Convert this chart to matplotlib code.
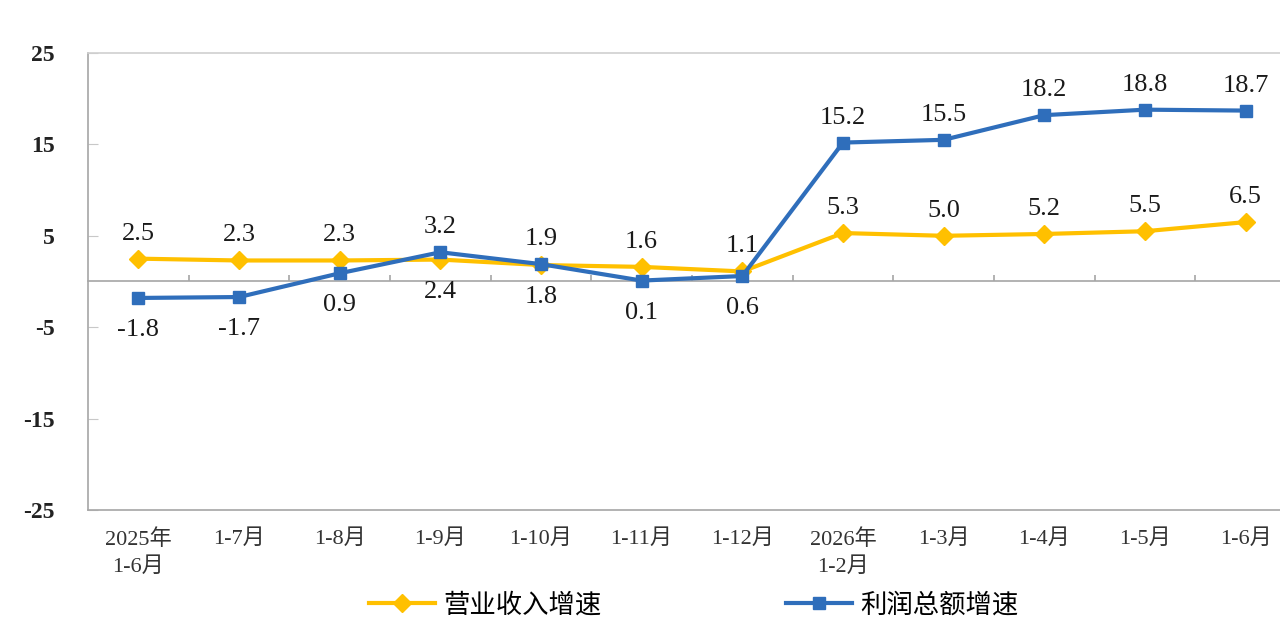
import matplotlib.pyplot as plt

plt.rcParams['font.family'] = ['Liberation Serif', 'Noto Sans CJK SC', 'DejaVu Sans']

periods = ['2025年\n1-6月', '1-7月', '1-8月', '1-9月', '1-10月', '1-11月', '1-12月',
           '2026年\n1-2月', '1-3月', '1-4月', '1-5月', '1-6月']
revenue = [2.5, 2.3, 2.3, 2.4, 1.8, 1.6, 1.1, 5.3, 5.0, 5.2, 5.5, 6.5]
profit = [-1.8, -1.7, 0.9, 3.2, 1.9, 0.1, 0.6, 15.2, 15.5, 18.2, 18.8, 18.7]

# where each data label sits relative to its point
revenue_side = ['up', 'up', 'up', 'down', 'down', 'up', 'up', 'up', 'up', 'up', 'up', 'up']
profit_side = ['down', 'down', 'down', 'up', 'up', 'down', 'down', 'up', 'up', 'up', 'up', 'up']

orange = '#FFC000'
blue = '#2F6EBB'
grey = '#A6A6A6'

fig = plt.figure(figsize=(12.8, 6.29), dpi=100)
ax = fig.add_axes([88 / 1280, 119 / 629, 1208 / 1280, 457 / 629])

x = list(range(len(periods)))
ax.plot(x, revenue, color=orange, lw=3, marker='D', ms=9, label='营业收入增速')
ax.plot(x, profit, color=blue, lw=3, marker='s', ms=8, label='利润总额增速')

def add_labels(values, sides):
    for i, (v, s) in enumerate(zip(values, sides)):
        dy = 18 if s == 'up' else -23
        ax.annotate(f'{v:.1f}', (i, v), xytext=(0, dy), textcoords='offset points',
                    ha='center', va='center', fontsize=19, color='#1A1A1A')

add_labels(revenue, revenue_side)
add_labels(profit, profit_side)

ax.set_xlim(-0.5, len(periods) - 0.5)
ax.set_ylim(-25, 25)
ax.set_yticks([-25, -15, -5, 5, 15, 25])
ax.set_yticklabels(['-25', '-15', '-5', '5', '15', '25'], fontweight='bold')
ax.tick_params(axis='y', direction='in', length=7, color='#C8C8C8', pad=24,
               labelsize=17, labelcolor='#222222')
ax.set_xticks(x)
ax.set_xticklabels(periods, fontsize=16, linespacing=1.5, color='#333333')
ax.tick_params(axis='x', length=0, pad=14)

for side in ['left', 'bottom', 'top']:
    ax.spines[side].set_color(grey)
    ax.spines[side].set_linewidth(1.2)
ax.spines['top'].set_color('#D0D0D0')
ax.spines['right'].set_visible(False)

# category axis crossing at zero
zero_axis = ax.secondary_xaxis(0.5)
zero_axis.set_xticks([i + 0.5 for i in x[:-1]])
zero_axis.set_xticklabels([])
zero_axis.tick_params(direction='out', length=4, color=grey, width=1.2)
for sp in zero_axis.spines.values():
    sp.set_color(grey)
    sp.set_linewidth(1.2)

fig.legend(loc='center', bbox_to_anchor=(0.542, 0.038), ncol=2, frameon=False,
           handlelength=2.5, handletextpad=0.3, columnspacing=7,
           prop={'family': ['Noto Sans CJK SC'], 'size': 19})

fig.savefig('out.png', dpi=100)
